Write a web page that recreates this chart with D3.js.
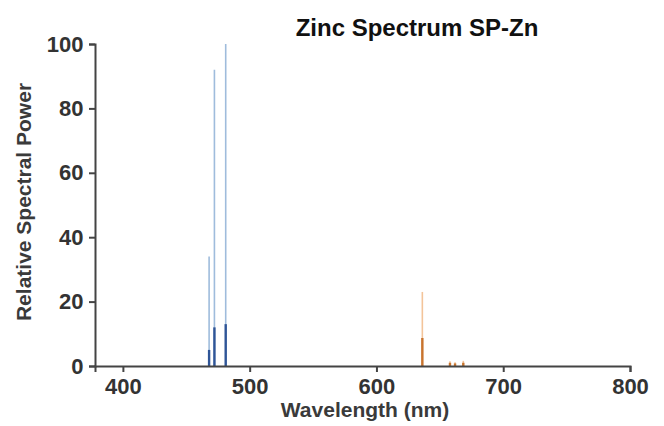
<!DOCTYPE html>
<html>
<head>
<meta charset="utf-8">
<script src="https://cdn.jsdelivr.net/npm/d3@7"></script>
<style>
  body { margin: 0; background: #fff; }
  svg { font-family: "Liberation Sans", Arial, sans-serif; }
  .axis path, .axis line { stroke: #444; stroke-width: 2; }
  .axis text { font-size: 22px; font-weight: bold; fill: #333; }
</style>
</head>
<body>
<svg id="mainChart" width="664" height="426"></svg>
<script>
// emission lines (nm) with the tall thin peak and the darker base part
const lineWl     = [468.0, 472.2, 481.1, 636.2, 658.0, 662.0, 668.5];
const peakVals   = [34, 92, 100, 23, 1.5, 1.2, 1.6];
const baseVals   = [5, 12, 13, 8.7, 1.0, 0.8, 1.0];
const lineGroup  = ["blue", "blue", "blue", "orange", "orange", "orange", "orange"];
const xTicks = [400, 500, 600, 700, 800];
const yTicks = [0, 20, 40, 60, 80, 100];

const colors = {
  blue:   { peak: "#9fbcdc", base: "#2f5597" },
  orange: { peak: "#f3c49a", base: "#c8742e" }
};

const attr = { left: 95, right: 630, top: 44, bottom: 366 };
const svg = d3.select("svg#mainChart");

const scaleX = d3.scaleLinear().domain([378, 800]).range([attr.left, attr.right]);
const scaleY = d3.scaleLinear().domain([0, 100]).range([attr.bottom, attr.top]);

const data = lineWl.map((w, i) => ({
  wl: w, peak: peakVals[i], base: baseVals[i], group: lineGroup[i]
}));

// tall faint lines
svg.selectAll(".peak")
  .data(data)
  .enter()
  .append("line")
  .attr("class", "peak")
  .attr("x1", d => scaleX(d.wl))
  .attr("x2", d => scaleX(d.wl))
  .attr("y1", scaleY(0))
  .attr("y2", d => scaleY(d.peak))
  .attr("stroke", d => colors[d.group].peak)
  .attr("stroke-width", 1.6);

// darker base part
svg.selectAll(".base")
  .data(data)
  .enter()
  .append("line")
  .attr("class", "base")
  .attr("x1", d => scaleX(d.wl))
  .attr("x2", d => scaleX(d.wl))
  .attr("y1", scaleY(0))
  .attr("y2", d => scaleY(d.base))
  .attr("stroke", d => colors[d.group].base)
  .attr("stroke-width", 2.4);

const axisX = d3.axisBottom(scaleX).tickValues(xTicks).tickSize(6).tickSizeOuter(6);
const axisY = d3.axisLeft(scaleY).tickValues(yTicks).tickSize(6).tickSizeOuter(6);

svg.append("g")
  .attr("class", "axis axis-x")
  .attr("transform", `translate(0, ${attr.bottom})`)
  .call(axisX)
  .selectAll("text")
  .attr("dy", "0.85em");

svg.append("g")
  .attr("class", "axis axis-y")
  .attr("transform", `translate(${attr.left}, 0)`)
  .call(axisY)
  .selectAll("text")
  .attr("dx", "-0.12em");

svg.append("text")
  .attr("x", 417)
  .attr("y", 36)
  .attr("text-anchor", "middle")
  .style("font-size", "24px")
  .style("font-weight", "bold")
  .style("fill", "#111")
  .text("Zinc Spectrum SP-Zn");

svg.append("text")
  .attr("x", 365)
  .attr("y", 417)
  .attr("text-anchor", "middle")
  .style("font-size", "21px")
  .style("font-weight", "bold")
  .style("fill", "#3a3a3a")
  .text("Wavelength (nm)");

svg.append("text")
  .attr("transform", "rotate(-90)")
  .attr("x", -202)
  .attr("y", 31)
  .attr("text-anchor", "middle")
  .style("font-size", "21px")
  .style("font-weight", "bold")
  .style("fill", "#3a3a3a")
  .text("Relative Spectral Power");
</script>
</body>
</html>
